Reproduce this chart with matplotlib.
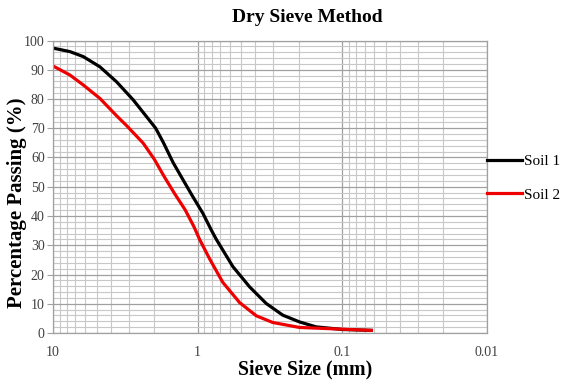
import matplotlib
matplotlib.use("Agg")
import matplotlib.pyplot as plt
from matplotlib.ticker import LogLocator, MultipleLocator, FixedLocator, FixedFormatter

soil1_size = [10, 7.64, 6.18, 4.74, 3.64, 2.79, 2.26, 1.95, 1.73, 1.48, 1.26, 1.08, 0.92, 0.805, 0.743,
              0.571, 0.438, 0.336, 0.258, 0.198, 0.152, 0.1, 0.063]
soil1_pass = [97.4, 96.2, 94.5, 91.0, 85.9, 79.7, 74.0, 70.0, 65.2, 58.3, 52.3, 46.6, 40.9, 35.2, 32.0,
              22.7, 15.8, 10.1, 6.1, 3.8, 2.1, 1.2, 0.9]
soil2_size = [10, 7.64, 6.18, 4.74, 3.64, 3.10, 2.38, 2.0, 1.70, 1.45, 1.22, 1.06, 0.97, 0.826, 0.67,
              0.513, 0.394, 0.303, 0.198, 0.1, 0.063]
soil2_pass = [91.3, 88.2, 84.8, 80.2, 74.3, 70.9, 64.9, 59.5, 53.4, 47.8, 42.1, 36.3, 32.0, 25.3, 17.3,
              10.4, 5.9, 3.6, 1.9, 1.3, 0.9]
xticks = [10, 1, 0.1, 0.01]
xtick_labels = ["10", "1", "0.1", "0.01"]

serif = ["Liberation Serif", "DejaVu Serif"]
W, H = 565, 389

fig = plt.figure(figsize=(5.65, 3.89), dpi=100)
ax = fig.add_axes([53 / W, 1 - 333 / H, (487 - 53) / W, (333 - 40.5) / H])

ax.plot(soil1_size, soil1_pass, color="black", lw=2.3, label="Soil 1")
ax.plot(soil2_size, soil2_pass, color="#ee0000", lw=2.3, label="Soil 2")

ax.set_xscale("log")
ax.set_xlim(10, 0.01)
ax.set_ylim(0, 100)
ax.xaxis.set_major_locator(FixedLocator(xticks))
ax.xaxis.set_major_formatter(FixedFormatter(xtick_labels))
ax.xaxis.set_minor_locator(LogLocator(base=10, subs=range(2, 10)))
ax.xaxis.set_minor_formatter(plt.NullFormatter())
ax.yaxis.set_major_locator(MultipleLocator(10))
ax.yaxis.set_minor_locator(MultipleLocator(2))

ax.grid(True, which="major", color="#a0a0a0", lw=0.9)
ax.grid(True, which="minor", color="#c8c8c8", lw=0.8)
ax.set_axisbelow(True)
for s in ax.spines.values():
    s.set_color("#a0a0a0")
    s.set_linewidth(0.9)
ax.tick_params(which="minor", length=0)
ax.tick_params(axis="x", which="major", length=0, pad=9)
ax.tick_params(axis="y", which="major", length=4, direction="out", color="#a0a0a0", pad=2)
for lab in ax.get_xticklabels() + ax.get_yticklabels():
    lab.set_fontfamily(serif)
    lab.set_fontsize(10)
    lab.set_color("#404040")

fig.text(307 / W, 1 - 17 / H, "Dry Sieve Method", fontfamily=serif, fontweight="bold",
         fontsize=14, ha="center", va="center")
fig.text(305 / W, 1 - 369 / H, "Sieve Size (mm)", fontfamily=serif, fontweight="bold",
         fontsize=14.2, ha="center", va="center")
fig.text(17 / W, 1 - 203 / H, "Percentage Passing (%)", fontfamily=serif, fontweight="bold",
         fontsize=15, ha="center", va="center", rotation=90)

leg = ax.legend(loc="center left", bbox_to_anchor=(1.0, 0.53), frameon=False,
                prop={"family": serif, "size": 11}, handlelength=2.3, labelspacing=1.3,
                handletextpad=0.15, borderaxespad=0.0, borderpad=0.0)

fig.savefig("out.png", dpi=100)
